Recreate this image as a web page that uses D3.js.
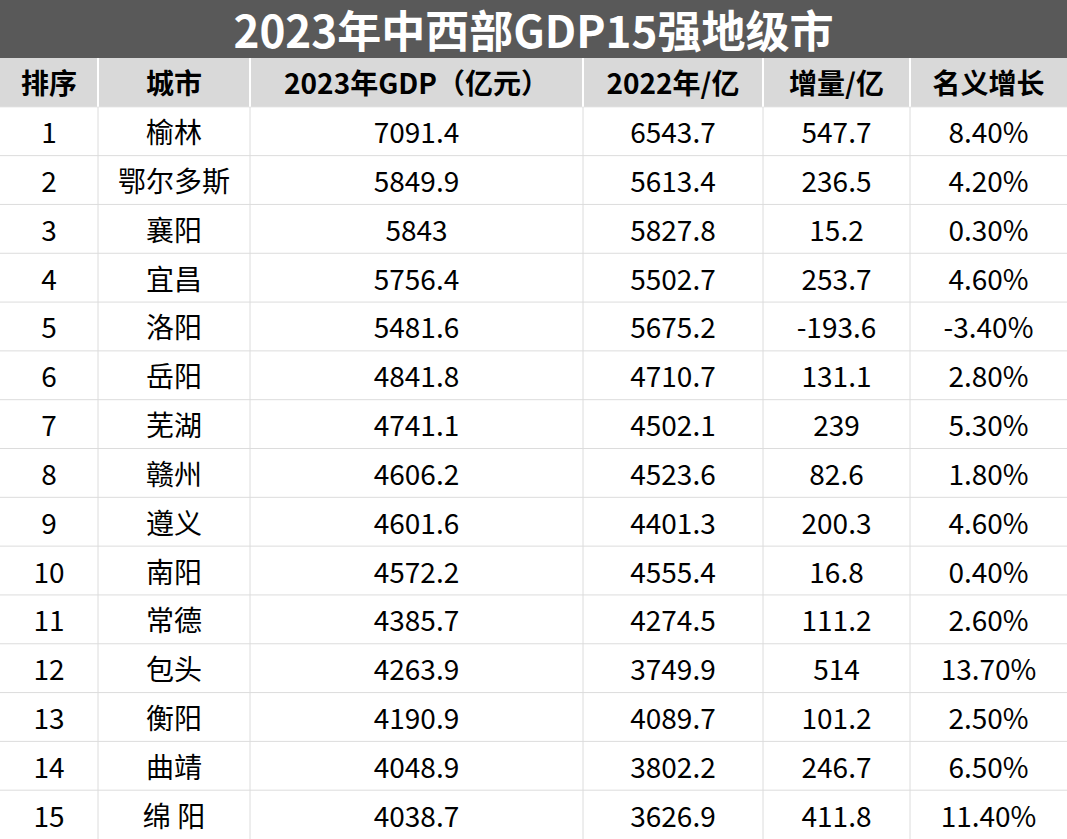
<!DOCTYPE html>
<html><head><meta charset="utf-8">
<script src="https://cdn.jsdelivr.net/npm/d3@7"></script>
<style>body{margin:0;background:#fff}svg{display:block}</style>
</head><body>
<script>
var title = '2023年中西部GDP15强地级市';
var headers = ['排序', '城市', '2023年GDP（亿元）', '2022年/亿', '增量/亿', '名义增长'];
var cities = ['榆林','鄂尔多斯','襄阳','宜昌','洛阳','岳阳','芜湖','赣州','遵义','南阳','常德','包头','衡阳','曲靖','绵 阳'];
var gdp2023 = ['7091.4','5849.9','5843','5756.4','5481.6','4841.8','4741.1','4606.2','4601.6','4572.2','4385.7','4263.9','4190.9','4048.9','4038.7'];
var gdp2022 = ['6543.7','5613.4','5827.8','5502.7','5675.2','4710.7','4502.1','4523.6','4401.3','4555.4','4274.5','3749.9','4089.7','3802.2','3626.9'];
var increase = ['547.7','236.5','15.2','253.7','-193.6','131.1','239','82.6','200.3','16.8','111.2','514','101.2','246.7','411.8'];
var growth = ['8.40%','4.20%','0.30%','4.60%','-3.40%','2.80%','5.30%','1.80%','4.60%','0.40%','2.60%','13.70%','2.50%','6.50%','11.40%'];

var W = 1067, H = 839;
var colEdges = [0, 98, 250, 583, 763, 910, 1067];
var svg = d3.select('body').append('svg').attr('width', W).attr('height', H)
  .style('font-family', '"Noto Sans CJK SC","Noto Sans",sans-serif');

svg.append('rect').attr('width', W).attr('height', 58).attr('fill', '#595959');
svg.append('text').attr('x', W / 2).attr('y', 29).attr('text-anchor', 'middle')
  .attr('dominant-baseline', 'central').attr('fill', '#fff').attr('font-size', 44)
  .attr('font-weight', 'bold').text(title);

var y = d3.scaleBand().domain(d3.range(16)).range([58, H]);
svg.append('rect').attr('y', y(0)).attr('width', W).attr('height', y.bandwidth()).attr('fill', '#d9d9d9');

var rows = cities.map(function (c, i) {
  return [String(i + 1), c, gdp2023[i], gdp2022[i], increase[i], growth[i]];
});

// grid
d3.range(1, 16).forEach(function (r) {
  svg.append('line').attr('x1', 0).attr('x2', W).attr('y1', y(r)).attr('y2', y(r))
    .attr('stroke', '#dcdcdc');
});
colEdges.slice(1, -1).forEach(function (x) {
  svg.append('line').attr('x1', x).attr('x2', x).attr('y1', 58).attr('y2', H)
    .attr('stroke', '#dcdcdc');
  svg.append('line').attr('x1', x).attr('x2', x).attr('y1', 58).attr('y2', y(1))
    .attr('stroke', '#fff').attr('stroke-width', 2);
});

function cx(j) { return (colEdges[j] + colEdges[j + 1]) / 2; }

headers.forEach(function (h, j) {
  svg.append('text').attr('x', cx(j)).attr('y', y(0) + y.bandwidth() / 2)
    .attr('text-anchor', 'middle').attr('dominant-baseline', 'central')
    .attr('font-size', 28).attr('font-weight', 'bold').attr('fill', '#000').text(h);
});
rows.forEach(function (row, i) {
  row.forEach(function (v, j) {
    svg.append('text').attr('x', cx(j)).attr('y', y(i + 1) + y.bandwidth() / 2)
      .attr('text-anchor', 'middle').attr('dominant-baseline', 'central')
      .attr('font-size', 28).attr('fill', '#000').text(v);
  });
});
</script>
</body></html>
